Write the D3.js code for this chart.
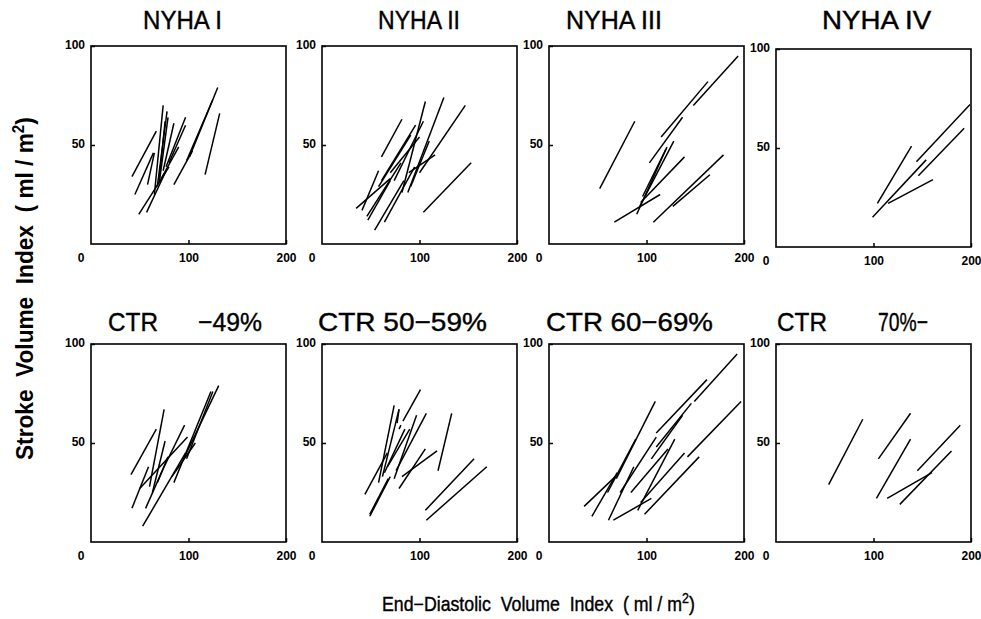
<!DOCTYPE html>
<html>
<head>
<meta charset="utf-8">
<script src="https://cdn.jsdelivr.net/npm/d3@7"></script>
<style>
  html, body { margin: 0; padding: 0; background: #fff; }
  svg { display: block; }
  text { font-family: "Liberation Sans", Arial, Helvetica, sans-serif; fill: #000; }
</style>
</head>
<body>
<svg id="chart" width="981" height="619"></svg>
<script>
// ---------------- data ----------------
const titleMain = ["NYHA I", "NYHA II", "NYHA III", "NYHA IV", "CTR", "CTR 50\u221259%", "CTR 60\u221269%", "CTR"];
const titleSuffix = ["", "", "", "", "\u221249%", "", "", "70%\u2212"];
const xTickValues = [100, 200];
const yTickValues = [50, 100];
const originLabel = "0";
const xDomain = [0, 200];
const yDomain = [0, 100];
const xAxisTitle = "End\u2212Diastolic  Volume  Index  ( ml / m";
const yAxisTitle = "Stroke  Volume  Index  ( ml / m";

// each segment: [EDVI start, SVI start, EDVI end, SVI end]
const nyha1 = [
  [42,34,67,57],[45,25,64,46],[49,15,80,39],[57,16,77,37],[58,30,65,46],
  [65,25,74,70],[68,29,78,67],[70,31,79,64],[70,33,76,62],[74,37,85,61],
  [72,33,90,49],[77,39,97,64],[80,41,97,60],[85,30,104,47],[98,42,125,73],
  [101,44,130,79],[117,35,132,66]
];
const nyha2 = [
  [35,18,70,33],[41,17,58,37],[61,44,82,63],[46,14,81,41],[47,12,70,32],
  [54,7,84,32],[64,11,95,39],[58,29,91,55],[61,32,96,60],[70,36,100,54],
  [74,32,104,62],[82,26,106,72],[88,26,125,74],[89,36,116,45],[91,29,110,52],
  [100,36,147,70],[104,16,153,41]
];
const nyha3 = [
  [52,28,88,62],[67,11,114,25],[90,15,121,49],[92,18,128,52],[96,24,120,48],
  [94,21,139,44],[103,41,137,64],[115,54,163,82],[148,70,194,95],[107,11,179,45],
  [127,19,165,35]
];
const nyha4 = [
  [104,22,139,51],[99,15,154,44],[115,22,161,34],[144,43,199,72],[146,36,193,60]
];
const ctr49 = [
  [41,34,67,57],[42,17,59,38],[50,27,99,53],[53,8,97,45],[56,17,74,37],
  [60,28,75,67],[63,25,76,51],[68,30,79,43],[74,37,96,59],[83,33,107,50],
  [85,30,123,76],[96,43,131,79],[98,42,125,76]
];
const ctr5059 = [
  [44,24,67,45],[49,13,70,33],[49,14,68,32],[58,30,74,69],[62,33,79,67],
  [64,35,85,57],[67,38,90,57],[74,32,97,64],[76,36,107,65],[83,61,101,77],
  [79,27,106,47],[82,33,118,46],[119,36,133,65],[106,16,156,42],[107,11,169,38],
  [77,60,79,67],[79,57,81,59]
];
const ctr6069 = [
  [36,18,68,33],[44,13,70,35],[60,25,89,52],[61,11,87,38],[66,11,105,22],
  [69,32,109,71],[73,25,110,53],[84,25,122,47],[91,16,129,52],[94,20,139,45],
  [98,14,154,43],[105,42,137,64],[110,48,146,70],[110,55,162,82],[149,71,193,95],
  [142,43,197,71]
];
const ctr70 = [
  [54,29,89,62],[105,42,138,65],[103,22,138,52],[114,22,160,35],[127,19,180,46],
  [145,36,189,59]
];
const panelSegments = [nyha1, nyha2, nyha3, nyha4, ctr49, ctr5059, ctr6069, ctr70];

// ---------------- layout ----------------
const colLeft = [91, 322, 549, 776];
const rowTop = [46, 344];
const boxW = 195, boxH = 198;
const titleMainSpan = [[143,222],[378,460],[566,662],[822,932],[108,158],[318,487],[546,713],[777,827]];
const titleSuffixSpan = [null,null,null,null,[198,262],null,null,[878,928]];
const titleBaseline = [29, 331];

const svg = d3.select("#chart");

function fitX(sel, x0, x1) {
  const bb = sel.node().getBBox();
  const sx = (x1 - x0) / bb.width;
  sel.attr("transform", `translate(${x0},0) scale(${sx},1) translate(${-bb.x},0)`);
}

titleMain.forEach((title, i) => {
  const col = i % 4, row = Math.floor(i / 4);
  const left = colLeft[col], top = rowTop[row] + (i === 3 ? 3 : 0);
  const x = d3.scaleLinear().domain(xDomain).range([0, boxW]);
  const y = d3.scaleLinear().domain(yDomain).range([boxH, 0]);

  const g = svg.append("g").attr("transform", `translate(${left},${top})`);

  g.append("rect")
    .attr("x", 0).attr("y", 0).attr("width", boxW).attr("height", boxH)
    .attr("fill", "none").attr("stroke", "#000").attr("stroke-width", 1.6);

  const yAxis = d3.axisLeft(y).tickValues(yTickValues).tickSizeInner(-4).tickSizeOuter(0).tickPadding(6);
  const ya = g.append("g").call(yAxis);
  ya.select(".domain").remove();
  ya.selectAll("line").attr("stroke", "#000").attr("stroke-width", 1.5);
  ya.selectAll("text").attr("font-size", 12).attr("font-weight", "bold")
    .attr("x", -6).attr("dy", "0.2em");

  const xAxis = d3.axisBottom(x).tickValues(xTickValues).tickSizeInner(-4).tickSizeOuter(0).tickPadding(9);
  const xa = g.append("g").attr("transform", `translate(0,${boxH})`).call(xAxis);
  xa.select(".domain").remove();
  xa.selectAll("line").attr("stroke", "#000").attr("stroke-width", 1.5);
  xa.selectAll("text").attr("font-size", 12).attr("font-weight", "bold").attr("y", 9);

  g.append("text")
    .attr("x", x(0) - 10).attr("y", boxH + 9).attr("dy", "0.71em")
    .attr("text-anchor", "middle").attr("font-size", 12).attr("font-weight", "bold")
    .text(originLabel);

  g.selectAll("line.seg")
    .data(panelSegments[i])
    .join("line")
    .attr("class", "seg")
    .attr("x1", d => x(d[0])).attr("y1", d => y(d[1]))
    .attr("x2", d => x(d[2])).attr("y2", d => y(d[3]))
    .attr("stroke", "#000").attr("stroke-width", 1.5);

  const t1 = svg.append("text").attr("x", 0).attr("y", titleBaseline[row])
    .attr("font-size", 26).attr("stroke", "#000").attr("stroke-width", 0.4).text(title);
  fitX(t1, titleMainSpan[i][0], titleMainSpan[i][1]);
  if (titleSuffix[i]) {
    const t2 = svg.append("text").attr("x", 0).attr("y", titleBaseline[row])
      .attr("font-size", 26).attr("stroke", "#000").attr("stroke-width", 0.4).text(titleSuffix[i]);
    fitX(t2, titleSuffixSpan[i][0], titleSuffixSpan[i][1]);
  }
});

// y-axis title
const yG = svg.append("g").attr("transform", "translate(33,460) rotate(-90)");
const yTitle = yG.append("text").attr("x", 0).attr("y", 0)
  .attr("font-size", 24).attr("font-weight", "bold").style("white-space", "pre");
yTitle.append("tspan").text(yAxisTitle);
yTitle.append("tspan").attr("font-size", 16).attr("dy", "-0.55em").text("2");
yTitle.append("tspan").attr("dy", "0.36em").text(")");
fitX(yTitle, 0, 343);

// x-axis title
const xTitle = svg.append("text").attr("x", 0).attr("y", 611)
  .attr("font-size", 20).attr("stroke", "#000").attr("stroke-width", 0.4).style("white-space", "pre");
xTitle.append("tspan").text(xAxisTitle);
xTitle.append("tspan").attr("font-size", 14).attr("dy", "-0.55em").text("2");
xTitle.append("tspan").attr("dy", "0.38em").text(")");
fitX(xTitle, 382, 695);
</script>
</body>
</html>
